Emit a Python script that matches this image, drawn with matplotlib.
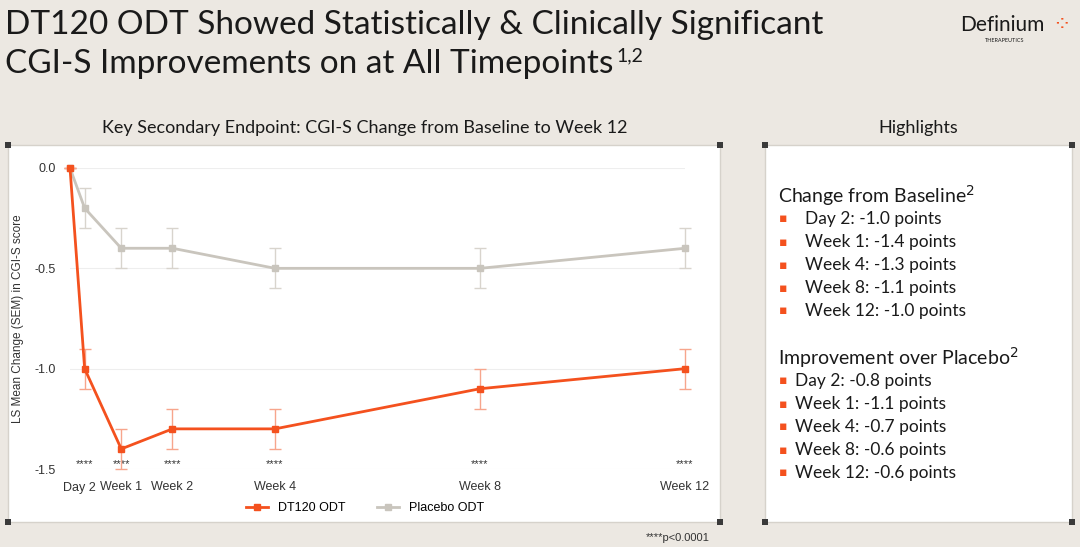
import matplotlib
matplotlib.use("Agg")
import matplotlib.pyplot as plt
from matplotlib.patches import Rectangle
from matplotlib.lines import Line2D
import matplotlib.transforms as mtrans

days = [0, 2, 7, 14, 28, 56, 84]
tick_days = [2, 7, 14, 28, 56, 84]
tick_labels = ["Day 2", "Week 1", "Week 2", "Week 4", "Week 8", "Week 12"]
dt120 = [0.0, -1.0, -1.4, -1.3, -1.3, -1.1, -1.0]
placebo = [0.0, -0.2, -0.4, -0.4, -0.5, -0.5, -0.4]
dt120_sem = [0, 0.1, 0.1, 0.1, 0.1, 0.1, 0.1]
placebo_sem = [0, 0.1, 0.1, 0.1, 0.1, 0.1, 0.1]

BG = "#ECE8E2"
ORANGE = "#F4511E"
GREY = "#C9C5BD"
plt.rcParams['font.family'] = ['Lato', 'DejaVu Sans']
CF = ['Liberation Sans', 'DejaVu Sans']

W, H = 1080, 547
fig = plt.figure(figsize=(10.8, 5.47), dpi=100, facecolor=BG)

def px(x, y):
    return x / W, 1 - y / H

for (x0, y0, x1, y1) in [(8, 145, 720, 522), (765, 145, 1072, 522)]:
    fig.patches.append(Rectangle(px(x0, y1), (x1 - x0) / W, (y1 - y0) / H,
                                 transform=fig.transFigure, facecolor="white",
                                 edgecolor="#D6D2CB", lw=1, zorder=-2))
    for cx, cy in [(x0, y0), (x1, y0), (x0, y1), (x1, y1)]:
        fig.patches.append(Rectangle(((cx - 3) / W, 1 - (cy + 3) / H), 6 / W, 6 / H,
                                     transform=fig.transFigure, facecolor="#3A3A3A",
                                     edgecolor="none", zorder=-1))

fig.text(*px(5, 25), "DT120 ODT Showed Statistically & Clinically Significant", fontsize=24,
         va="center", ha="left", color="#1A1A1A")
fig.text(*px(5, 64), "CGI-S Improvements on at All Timepoints", fontsize=24,
         va="center", ha="left", color="#1A1A1A")
fig.text(*px(616, 56), "1,2", fontsize=14, va="center", ha="left", color="#1A1A1A")
fig.text(*px(960, 25), "Definium", fontsize=15, va="center", ha="left", color="#1A1A1A")
fig.text(*px(985, 40), "THERAPEUTICS", fontsize=4, va="center", ha="left", color="#1A1A1A")
fig.text(*px(1052, 25), "⁘", fontsize=16, va="center", ha="left", color=ORANGE, family="DejaVu Sans")

fig.text(*px(365, 128), "Key Secondary Endpoint: CGI-S Change from Baseline to Week 12",
         fontsize=13, ha="center", va="center", color="#1A1A1A")
fig.text(*px(918, 128), "Highlights", fontsize=13, ha="center", va="center", color="#1A1A1A")

ax = fig.add_axes([70 / W, 1 - 469 / H, 615 / W, 301 / H], zorder=3)
ax.patch.set_alpha(0)
ax.set_xlim(0, 84)
ax.set_ylim(-1.5, 0.0)
for s in ax.spines.values():
    s.set_visible(False)
ax.set_yticks([0.0, -0.5, -1.0, -1.5])
ax.set_yticklabels(["0.0", "-0.5", "-1.0", "-1.5"], fontsize=9, color="#333333", family=CF)
ax.set_xticks(tick_days)
ax.set_xticklabels(tick_labels, fontsize=9, color="#333333", family=CF)
ax.tick_params(length=0, pad=9)
ax.tick_params(axis="y", pad=10)
lab = ax.get_xticklabels()
lab[0].set_transform(lab[0].get_transform() + mtrans.ScaledTranslation(-5 / 100, 0, fig.dpi_scale_trans))
ax.grid(axis="y", color="#EEEEEE", lw=0.8)
ax.set_axisbelow(True)
ax.set_ylabel("LS Mean Change (SEM) in CGI-S score", fontsize=8.5, color="#333333", labelpad=8, family=CF)

ax.errorbar(days, placebo, yerr=placebo_sem, color=GREY, lw=2, marker="s", ms=5,
            ecolor="#D8D4CD", elinewidth=1, capsize=4, clip_on=False, zorder=3)
ax.errorbar(days, dt120, yerr=dt120_sem, color=ORANGE, lw=2, marker="s", ms=5,
            ecolor="#F7A58C", elinewidth=1, capsize=4, clip_on=False, zorder=4)
for d in tick_days:
    ax.text(d, -1.5, "****", ha="center", va="bottom", fontsize=8, color="#333333", family=CF)

handles = [Line2D([], [], color=ORANGE, lw=2, marker="s", ms=5),
           Line2D([], [], color=GREY, lw=2, marker="s", ms=5)]
fig.legend(handles, ["DT120 ODT", "Placebo ODT"], loc="center", bbox_to_anchor=px(365, 508), ncol=2,
           frameon=False, prop={"family": CF, "size": 9}, handlelength=1.8, columnspacing=2.5)
fig.text(*px(710, 538), "****p<0.0001", fontsize=8, ha="right", va="center", color="#333333", family=CF)

lines = [
    ("Change from Baseline$^2$", 196, True, 0),
    ("Day 2: -1.0 points", 219, False, 10),
    ("Week 1: -1.4 points", 242, False, 10),
    ("Week 4: -1.3 points", 265, False, 10),
    ("Week 8: -1.1 points", 288, False, 10),
    ("Week 12: -1.0 points", 311, False, 10),
    ("Improvement over Placebo$^2$", 358, True, 0),
    ("Day 2: -0.8 points", 381, False, 0),
    ("Week 1: -1.1 points", 404, False, 0),
    ("Week 4: -0.7 points", 427, False, 0),
    ("Week 8: -0.6 points", 450, False, 0),
    ("Week 12: -0.6 points", 473, False, 0),
]
for t, y, head, ind in lines:
    if head:
        fig.text(*px(778, y), t, fontsize=14, va="center", ha="left", color="#1A1A1A")
    else:
        fig.text(*px(779, y), "▪", fontsize=9, va="center", ha="left", color=ORANGE, family="DejaVu Sans")
        fig.text(*px(795 + ind, y), t, fontsize=12.5, va="center", ha="left", color="#1A1A1A")

fig.savefig("out.png", dpi=100, facecolor=BG)
